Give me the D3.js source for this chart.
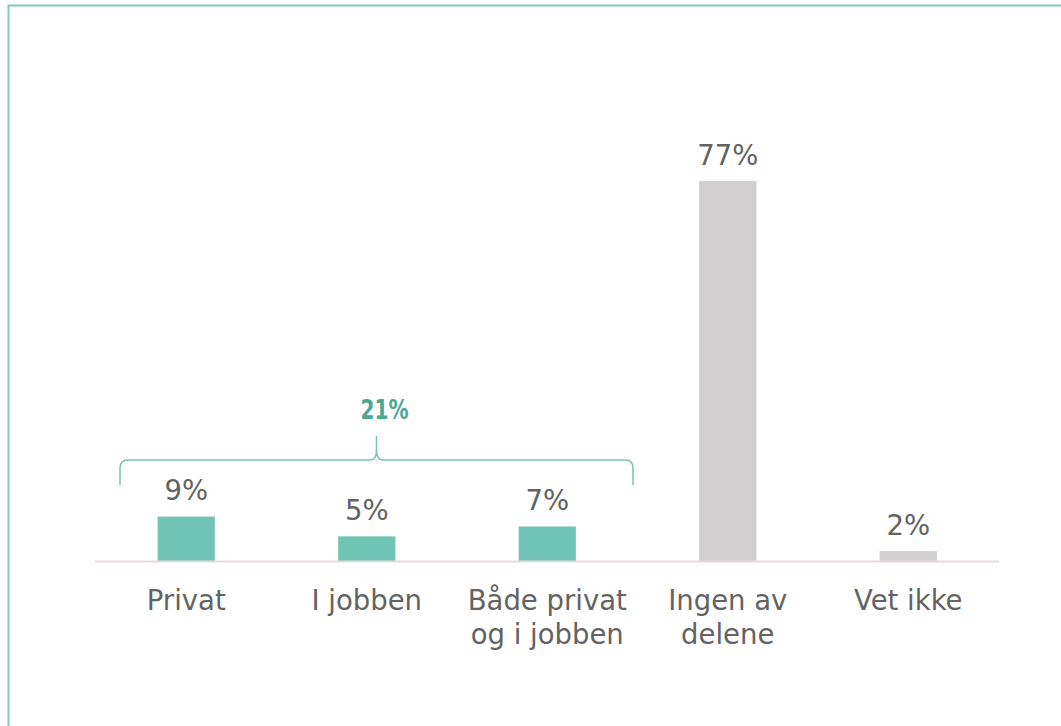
<!DOCTYPE html>
<html>
<head>
<meta charset="utf-8">
<script src="https://cdn.jsdelivr.net/npm/d3@7"></script>
<style>
  html, body { margin: 0; padding: 0; background: #fff; }
  svg { display: block; }
</style>
</head>
<body>
<svg id="chart" width="1061" height="726"></svg>
<script>
// ---- data ----
const categories = ["Privat", "I jobben", "Både privat\nog i jobben", "Ingen av\ndelene", "Vet ikke"];
const values = [9, 5, 7, 77, 2];
const valueLabels = ["9%", "5%", "7%", "77%", "2%"];
const groupFlags = [true, true, true, false, false];
const groupLabel = "21%";
const groupCount = 3;

// ---- drawing ----
const W = 1061, H = 726;
const svg = d3.select("#chart");
const teal = "#72c4b4";
const grey = "#d0cecf";
const textCol = "#636363";
const font = "'DejaVu Sans', sans-serif";

// frame (left & top visible)
svg.append("rect")
  .attr("x", 8.5).attr("y", 5.5)
  .attr("width", W + 20).attr("height", H + 20)
  .attr("fill", "none")
  .attr("stroke", "#80cbbb")
  .attr("stroke-width", 2);

const x = d3.scaleBand()
  .domain(categories)
  .range([96, 998.5])
  .paddingInner(0.683)
  .paddingOuter(0.3415);

const y = d3.scaleLinear()
  .domain([0, 100])
  .range([561, 67.5]);

const g = svg.append("g");

// bars
g.selectAll("rect.bar")
  .data(values)
  .join("rect")
  .attr("class", "bar")
  .attr("x", (d, i) => x(categories[i]))
  .attr("width", x.bandwidth())
  .attr("y", d => y(d))
  .attr("height", d => y(0) - y(d))
  .attr("fill", (d, i) => groupFlags[i] ? teal : grey);

// baseline
g.append("line")
  .attr("x1", 95).attr("x2", 999)
  .attr("y1", y(0) + 0.5).attr("y2", y(0) + 0.5)
  .attr("stroke", "#e6dade")
  .attr("stroke-width", 2);

// value labels
g.selectAll("text.val")
  .data(values)
  .join("text")
  .attr("class", "val")
  .attr("x", (d, i) => x(categories[i]) + x.bandwidth() / 2)
  .attr("y", d => y(d) - 16.5)
  .attr("text-anchor", "middle")
  .attr("font-family", font)
  .attr("font-size", 27.5)
  .attr("font-weight", 400)
  .attr("fill", textCol)
  .text((d, i) => valueLabels[i]);

// category labels
const cat = g.selectAll("text.cat")
  .data(categories)
  .join("text")
  .attr("class", "cat")
  .attr("text-anchor", "middle")
  .attr("font-family", font)
  .attr("font-size", 27.5)
  .attr("font-weight", 400)
  .attr("fill", textCol);
cat.each(function(d) {
  const t = d3.select(this);
  const cx = x(d) + x.bandwidth() / 2;
  d.split("\n").forEach((line, j) => {
    t.append("tspan").attr("x", cx).attr("y", 609.5 + j * 34.5).text(line);
  });
});

// brace over the first group
const bx0 = 120, bx1 = 633;
const bcx = (bx0 + bx1) / 2;
const by = 460, bEnd = 485, bTop = 436, r = 8;
const p = d3.path();
p.moveTo(bx0, bEnd);
p.lineTo(bx0, by + r);
p.quadraticCurveTo(bx0, by, bx0 + r, by);
p.lineTo(bcx - 6, by);
p.quadraticCurveTo(bcx, by, bcx, bTop + 14);
p.lineTo(bcx, bTop);
p.moveTo(bcx, bTop + 14);
p.quadraticCurveTo(bcx, by, bcx + 6, by);
p.lineTo(bx1 - r, by);
p.quadraticCurveTo(bx1, by, bx1, by + r);
p.lineTo(bx1, bEnd);
g.append("path")
  .attr("d", p.toString())
  .attr("fill", "none")
  .attr("stroke", teal)
  .attr("stroke-width", 1.5);

g.append("text")
  .attr("x", bcx + 8)
  .attr("y", 418.5)
  .attr("text-anchor", "middle")
  .attr("font-family", font)
  .attr("font-size", 26)
  .attr("font-weight", "bold")
  .attr("fill", "#4aa892")
  .attr("textLength", 48)
  .attr("lengthAdjust", "spacingAndGlyphs")
  .text(groupLabel);
</script>
</body>
</html>
